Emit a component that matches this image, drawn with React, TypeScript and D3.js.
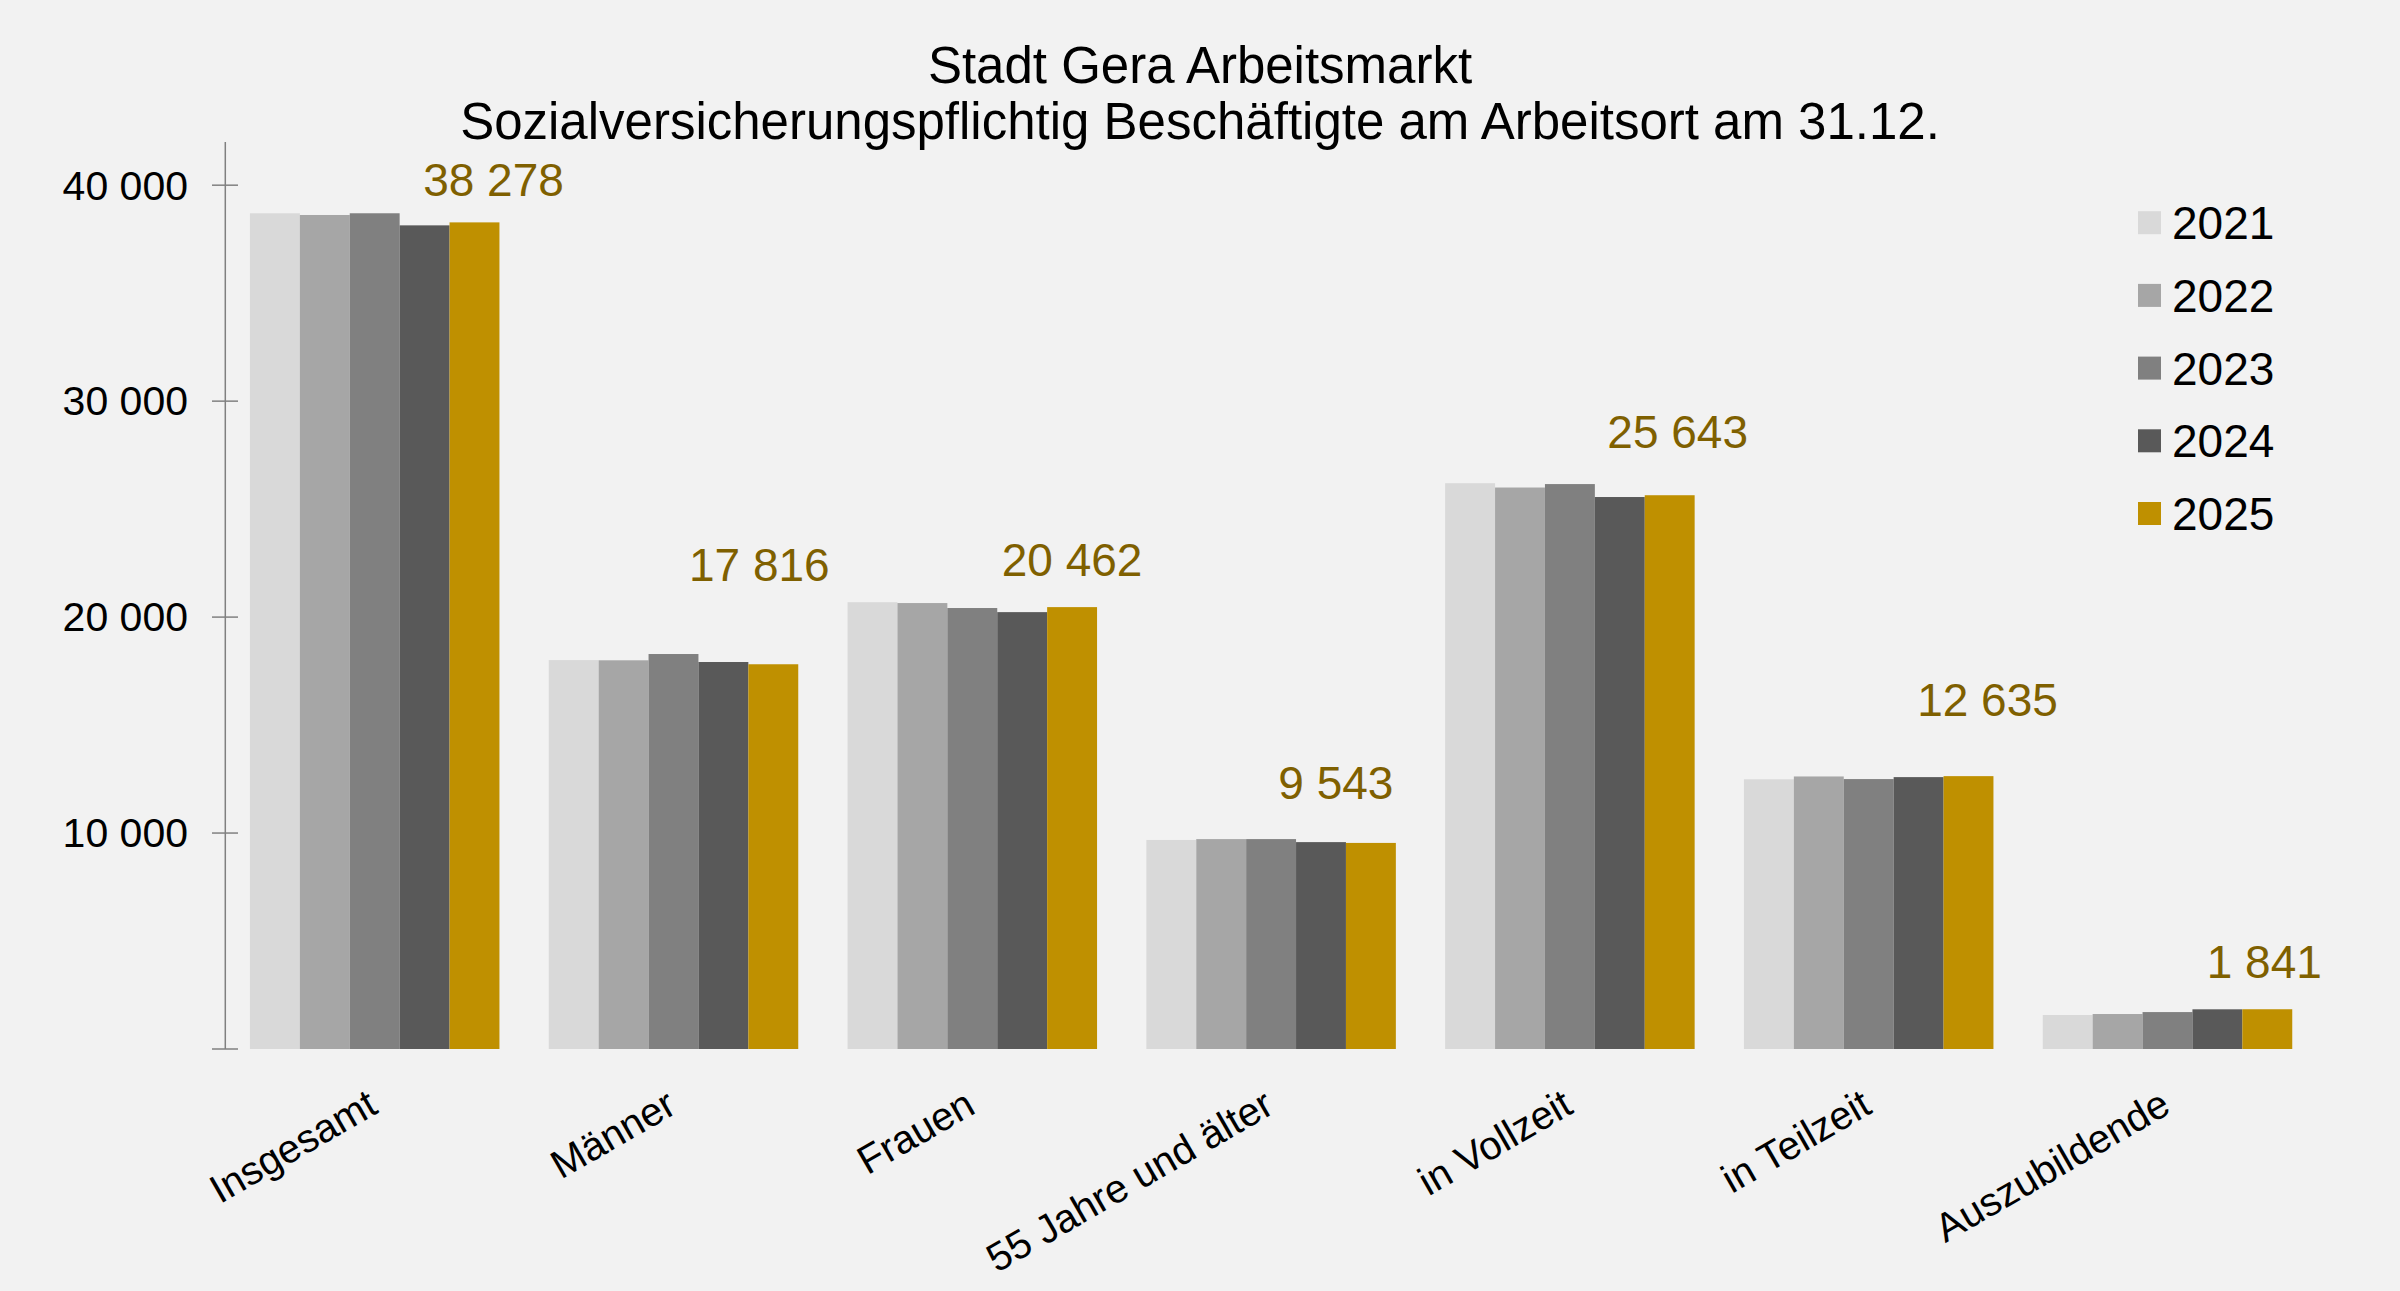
import React, { useEffect } from 'react';
import * as d3 from 'd3';

const categories = ['Insgesamt', 'Männer', 'Frauen', '55 Jahre und älter', 'in Vollzeit', 'in Teilzeit', 'Auszubildende'];
const years = ['2021', '2022', '2023', '2024', '2025'];

const values2021 = [38700, 18010, 20690, 9680, 26200, 12490, 1575];
const values2022 = [38620, 18000, 20650, 9720, 26000, 12620, 1620];
const values2023 = [38700, 18290, 20420, 9720, 26160, 12500, 1710];
const values2024 = [38140, 17920, 20230, 9580, 25560, 12590, 1838];
const values2025 = [38278, 17816, 20462, 9543, 25643, 12635, 1841];

const series = [values2021, values2022, values2023, values2024, values2025];
const yTicks = [10000, 20000, 30000, 40000];

const colors = ['#D9D9D9', '#A6A6A6', '#808080', '#595959', '#BF9000'];
// manual placement of the 2025 labels, as in the original [dx, dy] in px
const labelNudge = [[19, -26], [-14, -83], [0, -31], [-35, -44], [8, -47], [19, -60], [-3, -31]];

const W = 2400;
const H = 1291;
const font = "'Liberation Sans', Arial, sans-serif";

export default function App() {
  useEffect(() => {
    document.body.style.margin = '0';
  }, []);

  const x = d3.scaleBand<string>()
    .domain(categories)
    .range([225.3, 225.3 + 7 * 298.8])
    .paddingInner(0.165)
    .paddingOuter(0.0825);

  const xInner = d3.scaleBand<string>()
    .domain(years)
    .range([0, x.bandwidth()]);

  const y = d3.scaleLinear()
    .domain([0, 42000])
    .range([1049, 142]);

  const fmt = (v: number) => d3.format(',')(v).replace(/,/g, ' ');

  return (
    <svg width={W} height={H} style={{ display: 'block' }} fontFamily={font}>
      <rect width={W} height={H} fill="#F2F2F2" />

      <text x={1200} y={83} textAnchor="middle" fontSize={51} fill="#000">Stadt Gera Arbeitsmarkt</text>
      <text x={1200} y={139} textAnchor="middle" fontSize={51} fill="#000">
        Sozialversicherungspflichtig Beschäftigte am Arbeitsort am 31.12.
      </text>

      {series.map((vals, si) => (
        <g key={years[si]}>
          {categories.map((c, ci) => (
            <rect
              key={c}
              x={(x(c) ?? 0) + (xInner(years[si]) ?? 0)}
              y={y(vals[ci])}
              width={xInner.bandwidth()}
              height={y(0) - y(vals[ci])}
              fill={colors[si]}
            />
          ))}
        </g>
      ))}

      <line x1={x.range()[0]} x2={x.range()[0]} y1={y(42000)} y2={y(0)} stroke="#808080" strokeWidth={1.5} />
      {[0, ...yTicks].map((t) => (
        <line key={t} x1={212} x2={238} y1={y(t)} y2={y(t)} stroke="#808080" strokeWidth={1.5} />
      ))}
      {yTicks.map((t) => (
        <text key={t} x={188} y={y(t)} dy="0.35em" textAnchor="end" fontSize={41} fill="#000">{fmt(t)}</text>
      ))}

      {categories.map((c) => {
        const cx = (x(c) ?? 0) + x.bandwidth() / 2 + 5;
        return (
          <text key={c} transform={`translate(${cx},${1112}) rotate(-30)`} textAnchor="end" fontSize={40} fill="#000">{c}</text>
        );
      })}

      {categories.map((c, ci) => {
        const bx = (x(c) ?? 0) + (xInner('2025') ?? 0) + xInner.bandwidth() / 2;
        return (
          <text
            key={c}
            x={bx + labelNudge[ci][0]}
            y={y(values2025[ci]) + labelNudge[ci][1]}
            textAnchor="middle"
            fontSize={46}
            fill="#7F6000"
          >
            {fmt(values2025[ci])}
          </text>
        );
      })}

      {years.map((yr, i) => (
        <g key={yr} transform={`translate(2138,${222.7 + i * 72.7})`}>
          <rect x={0} y={-11.5} width={23} height={23} fill={colors[i]} />
          <text x={34} y={0} dy="0.36em" fontSize={46} fill="#000">{yr}</text>
        </g>
      ))}
    </svg>
  );
}
